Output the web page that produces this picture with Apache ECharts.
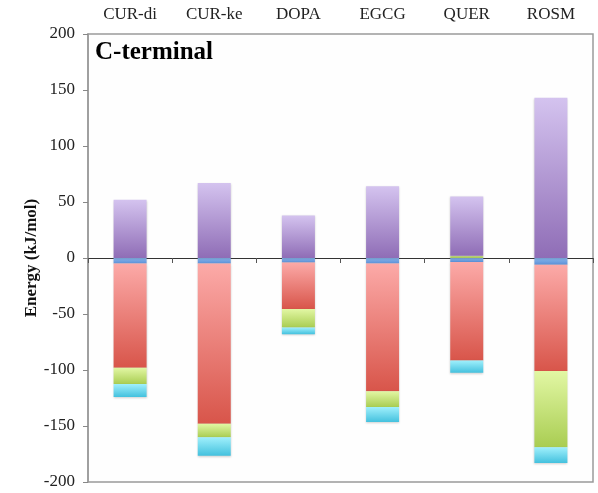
<!DOCTYPE html>
<html>
<head>
<meta charset="utf-8">
<title>C-terminal energy decomposition</title>
<script src="https://cdn.jsdelivr.net/npm/echarts@6/dist/echarts.min.js"></script>
<style>
  html, body { margin: 0; padding: 0; background: #ffffff; }
  #chart { width: 598px; height: 493px; }
</style>
</head>
<body>
<div id="chart"></div>
<script>
// Ligands along the category axis
const categories = ['CUR-di', 'CUR-ke', 'DOPA', 'EGCG', 'QUER', 'ROSM'];

// Energy components (kJ/mol), one array per stacked segment
const purpleValues = [52, 67, 38, 64, 53, 143];
const blueValues   = [-5, -5, -4, -5, -3.5, -6];
const redValues    = [-93, -143, -41.5, -114, -88, -95];
const greenValues  = [-14.5, -12, -16.5, -14, 2, -68];
const cyanValues   = [-11.5, -16.5, -6, -13.5, -11, -14];

// Value axis ticks
const yTicks = { min: -200, max: 200, interval: 50 };

const serif = '"Liberation Serif", "DejaVu Serif", serif';

function vGrad(top, bottom) {
  return new echarts.graphic.LinearGradient(0, 0, 0, 1, [
    { offset: 0, color: top },
    { offset: 1, color: bottom }
  ]);
}

function barSeries(name, data, top, bottom) {
  return {
    name: name,
    type: 'bar',
    stack: 'energy',
    barWidth: 33,
    data: data,
    itemStyle: {
      color: vGrad(top, bottom),
      shadowColor: 'rgba(0,0,0,0.18)',
      shadowBlur: 2,
      shadowOffsetY: 1
    }
  };
}

const chart = echarts.init(document.getElementById('chart'), null, { renderer: 'canvas' });

chart.setOption({
  animation: false,
  backgroundColor: '#ffffff',
  grid: {
    left: 88, right: 5, top: 34, bottom: 11,
    show: true,
    backgroundColor: '#fefefe',
    borderColor: '#9a9a9a',
    borderWidth: 1.5
  },
  graphic: [{
    type: 'text',
    left: 95,
    top: 40,
    style: {
      text: 'C-terminal',
      font: 'bold 25px ' + serif,
      fill: '#000000'
    }
  }],
  xAxis: [
    {
      // category names along the top edge
      type: 'category',
      data: categories,
      position: 'top',
      axisLine: { show: false, onZero: false },
      axisTick: { show: false },
      axisLabel: {
        margin: 11,
        fontFamily: serif,
        fontSize: 17,
        color: '#222222'
      }
    },
    {
      // baseline through zero with ticks between categories
      type: 'category',
      data: categories,
      position: 'bottom',
      axisLine: { show: true, onZero: true, lineStyle: { color: '#333333', width: 1 } },
      axisTick: { show: true, length: 5, lineStyle: { color: '#555555' } },
      axisLabel: { show: false }
    }
  ],
  yAxis: {
    type: 'value',
    min: yTicks.min,
    max: yTicks.max,
    interval: yTicks.interval,
    name: 'Energy (kJ/mol)',
    nameLocation: 'middle',
    nameGap: 48,
    nameMoveOverlap: false,
    nameTextStyle: {
      fontFamily: serif,
      fontSize: 17,
      fontWeight: 'bold',
      color: '#111111'
    },
    splitLine: { show: false },
    axisLine: { show: true, lineStyle: { color: '#9a9a9a', width: 1.5 } },
    axisTick: { show: true, length: 5, lineStyle: { color: '#888888' } },
    axisLabel: {
      margin: 13,
      fontFamily: serif,
      fontSize: 17,
      color: '#222222'
    }
  },
  series: [
    barSeries('blue', blueValues, '#8bb8ee', '#5a8fd6'),
    barSeries('red', redValues, '#fcaaa8', '#d8554a'),
    barSeries('green', greenValues, '#e2f7a4', '#a9cd52'),
    barSeries('cyan', cyanValues, '#a0f0fc', '#44c1de'),
    barSeries('purple', purpleValues, '#d4c3ef', '#8f6db6')
  ]
});
</script>
</body>
</html>
